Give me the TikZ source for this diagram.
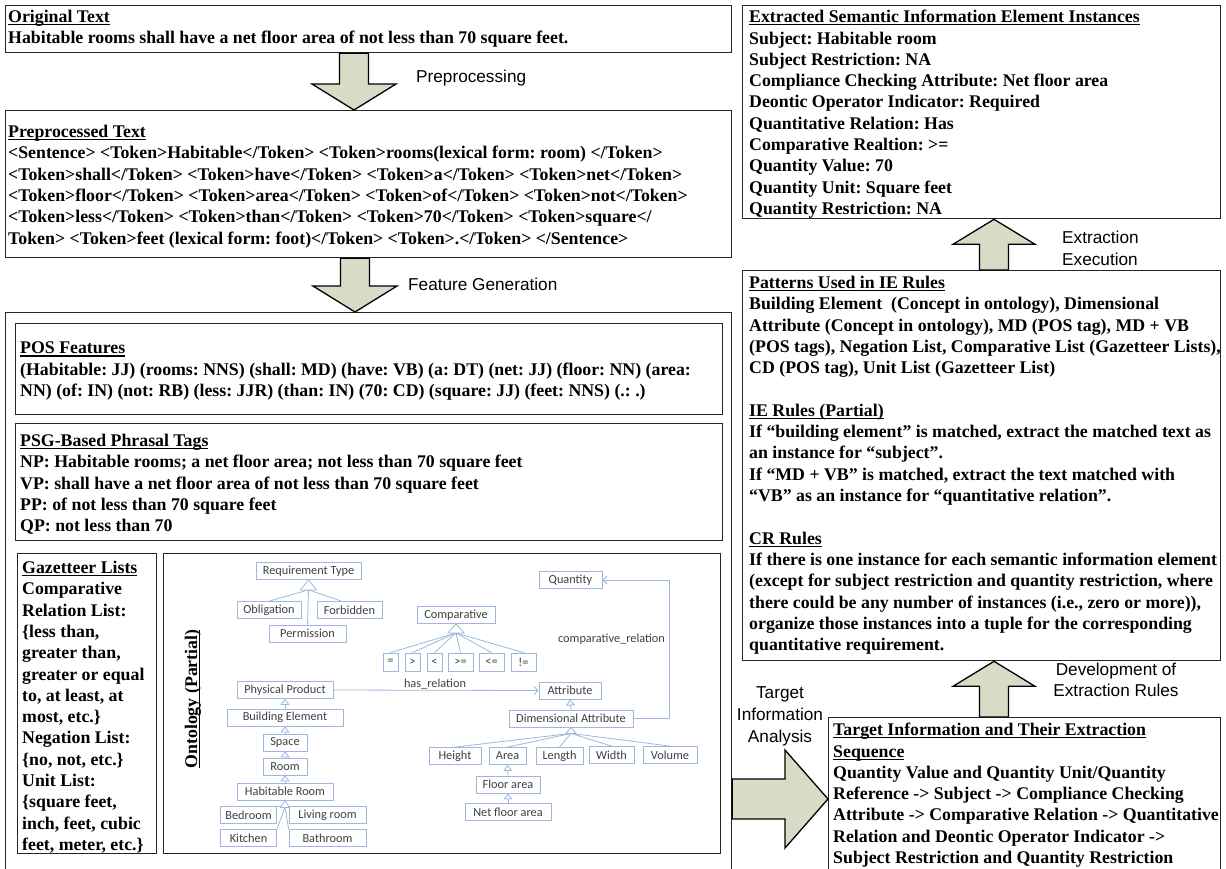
\documentclass[tikz,border=0pt]{standalone}
\usepackage{fontspec}
\setmainfont{Liberation Serif}
\newfontfamily\labelsans{Liberation Sans}
\newfontfamily\ontosans{Carlito}
\usetikzlibrary{arrows.meta,calc}
\definecolor{arrowfill}{HTML}{D8DBC6}
\definecolor{ontoline}{HTML}{9DB7DD}
\definecolor{ontotext}{HTML}{404040}
\frenchspacing

% underlined heading with a rule at a fixed depth
\newsavebox\hdrbox
\newcommand\hdr[1]{\sbox\hdrbox{#1}\rlap{\rule[-2.6pt]{\wd\hdrbox}{1.1pt}}\usebox\hdrbox}

% block arrow pointing down: x position, tail anchor, tip anchor
\newcommand\downblock[3]{%
  \draw[blockarrow] let \p1=(#2), \p2=(#3) in
    ({#1pt-14.5pt},\y1) -- ({#1pt+14.5pt},\y1) -- ({#1pt+14.5pt},\y2+26pt)
    -- ({#1pt+42pt},\y2+26pt) -- (#1pt,\y2) -- ({#1pt-42pt},\y2+26pt)
    -- ({#1pt-14.5pt},\y2+26pt) -- cycle;}
% block arrow pointing up: x position, tail anchor, tip anchor
\newcommand\upblock[3]{%
  \draw[blockarrow] let \p1=(#2), \p2=(#3) in
    ({#1pt-14.5pt},\y1) -- ({#1pt+14.5pt},\y1) -- ({#1pt+14.5pt},\y2-25pt)
    -- ({#1pt+41pt},\y2-25pt) -- (#1pt,\y2) -- ({#1pt-41pt},\y2-25pt)
    -- ({#1pt-14.5pt},\y2-25pt) -- cycle;}

\tikzset{
  panel/.style={draw=black!85, line width=1.3pt, anchor=north west, inner sep=0pt},
  body/.style={anchor=north west, inner sep=0pt, align=left,
    font=\fontsize{17.8}{21.3}\selectfont\bfseries, execute at begin node=\strut},
  flowlabel/.style={inner sep=0pt, align=center, font=\labelsans\fontsize{17.2}{21.5}\selectfont},
  blockarrow/.style={fill=arrowfill, draw=black, line width=1.3pt, line join=miter},
  onto/.style={draw=ontoline, line width=0.8pt, fill=white, text=ontotext, inner sep=0pt,
    minimum height=17pt, font=\ontosans\fontsize{12.3}{13}\selectfont},
  ol/.style={draw=ontoline, line width=0.8pt},
  gen/.style={ol, -{Triangle[open, fill=white, length=6pt, width=9pt]}},
  assoc/.style={ol, -{Straight Barb[length=4pt, width=8pt]}},
  ontolabel/.style={inner sep=0pt, text=ontotext, font=\ontosans\fontsize{12.3}{13}\selectfont},
}

\begin{document}
\begin{tikzpicture}[x=1pt,y=-1pt]
\useasboundingbox (0,0) rectangle (1226,868);

% ---------- left column panels ----------
\node[panel, minimum width=726pt, minimum height=47pt]  (orig) at (5,5) {};
\node[panel, minimum width=726pt, minimum height=147pt] (prep) at (5,110) {};
\node[panel, minimum width=726pt, minimum height=575pt] (feat) at (5,312) {};
\node[panel, minimum width=707pt, minimum height=91pt]  (pos)  at (15,323) {};
\node[panel, minimum width=707pt, minimum height=117pt] (psg)  at (15,423) {};
\node[panel, minimum width=139pt, minimum height=300pt] (gaz)  at (17,553) {};
\node[panel, minimum width=557pt, minimum height=300pt] (ontbox) at (163,553) {};

% ---------- right column panels ----------
\node[panel, minimum width=478pt, minimum height=213pt] (ext) at (742,5) {};
\node[panel, minimum width=478pt, minimum height=390pt] (pat) at (742,270) {};
\node[panel, minimum width=392pt, minimum height=170pt] (tgt) at (828,717) {};

% ---------- panel texts ----------
\node[body] (origtxt) at (8,10) {\hdr{Original Text}\\
Habitable rooms shall have a net floor area of not less than 70 square feet.};

\node[body] (preptxt) at (8,125) {\hdr{Preprocessed Text}\\
<Sentence> <Token>Habitable</Token> <Token>rooms(lexical form: room) </Token>\\
<Token>shall</Token> <Token>have</Token> <Token>a</Token> <Token>net</Token>\\
<Token>floor</Token> <Token>area</Token> <Token>of</Token> <Token>not</Token>\\
<Token>less</Token> <Token>than</Token> <Token>70</Token> <Token>square</\\
Token> <Token>feet (lexical form: foot)</Token> <Token>.</Token> </Sentence>};

\node[body] (postxt) at (20,342) {\hdr{POS Features}\\
(Habitable: JJ) (rooms: NNS) (shall: MD) (have: VB) (a: DT) (net: JJ) (floor: NN) (area:\\
NN) (of: IN) (not: RB) (less: JJR) (than: IN) (70: CD) (square: JJ) (feet: NNS) (.: .)};

\node[body] (psgtxt) at (20,434) {\hdr{PSG-Based Phrasal Tags}\\
NP: Habitable rooms; a net floor area; not less than 70 square feet\\
VP: shall have a net floor area of not less than 70 square feet\\
PP: of not less than 70 square feet\\
QP: not less than 70};

\node[body] (gaztxt) at (22,561) {\hdr{Gazetteer Lists}\\
Comparative\\ Relation List:\\ \{less than,\\ greater than,\\ greater or equal\\
to, at least, at\\ most, etc.\}\\ Negation List:\\ \{no, not, etc.\}\\ Unit List:\\
\{square feet,\\ inch, feet, cubic\\ feet, meter, etc.\}};

\node[body] (exttxt) at (749,10) {\hdr{Extracted Semantic Information Element Instances}\\
Subject: Habitable room\\
Subject Restriction: NA\\
Compliance Checking Attribute: Net floor area\\
Deontic Operator Indicator: Required\\
Quantitative Relation: Has\\
Comparative Realtion: >=\\
Quantity Value: 70\\
Quantity Unit: Square feet\\
Quantity Restriction: NA};

\node[body] (pattxt) at (749,276) {\hdr{Patterns Used in IE Rules}\\
Building Element~ (Concept in ontology), Dimensional\\
Attribute (Concept in ontology), MD (POS tag), MD + VB\\
(POS tags), Negation List, Comparative List (Gazetteer Lists),\\
CD (POS tag), Unit List (Gazetteer List)\\[21.3pt]
\hdr{IE Rules (Partial)}\\
If “building element” is matched, extract the matched text as\\
an instance for “subject”.\\
If “MD + VB” is matched, extract the text matched with\\
“VB” as an instance for “quantitative relation”.\\[21.3pt]
\hdr{CR Rules}\\
If there is one instance for each semantic information element\\
(except for subject restriction and quantity restriction, where\\
there could be any number of instances (i.e., zero or more)),\\
organize those instances into a tuple for the corresponding\\
quantitative requirement.};

\node[body] (tgttxt) at (833,723) {\hdr{Target Information and Their Extraction}\\
\hdr{Sequence}\\
Quantity Value and Quantity Unit/Quantity\\
Reference -> Subject -> Compliance Checking\\
Attribute -> Comparative Relation -> Quantitative\\
Relation and Deontic Operator Indicator ->\\
Subject Restriction and Quantity Restriction};

% ---------- block arrows between stages ----------
\downblock{354}{orig.south}{prep.north}
\downblock{355}{prep.south}{feat.north}
\upblock{994}{pat.north}{ext.south}
\upblock{994}{tgt.north}{pat.south}
\draw[blockarrow] let \p1=(feat.east), \p2=(tgt.west) in
  (\x1,-779pt) -- ({\x2-43pt},-779pt) -- ({\x2-43pt},-750pt) -- (\x2,-799pt)
  -- ({\x2-43pt},-848pt) -- ({\x2-43pt},-819pt) -- (\x1,-819pt) -- cycle;

\node[flowlabel, anchor=west] (lbpre)  at (416,78)  {Preprocessing};
\node[flowlabel, anchor=west] (lbfeat) at (408,284) {Feature Generation};
\node[flowlabel, anchor=west, align=left] (lbexec) at (1062,248.5) {Extraction\\Execution};
\node[flowlabel] (lbdev) at (1116,680) {Development of\\Extraction Rules};
\node[flowlabel, font=\labelsans\fontsize{17.2}{22}\selectfont] (lbtgt) at (780,716) {Target\\Information\\Analysis};

% ---------- ontology (partial) ----------
\node[rotate=90, inner sep=0pt, font=\fontsize{17.8}{20}\selectfont\bfseries] (ontotitle) at (193,699) {\hdr{Ontology (Partial)}};

\node[onto, minimum width=105pt] (reqtype) at (308.5,571) {Requirement Type};
\node[onto, minimum width=64pt]  (oblig)   at (269,610)   {Obligation};
\node[onto, minimum width=65pt]  (forbid)  at (349.5,610) {Forbidden};
\node[onto, minimum width=77pt]  (permit)  at (307.5,633.5) {Permission};

\node[onto, minimum width=78pt] (compar) at (456,615) {Comparative};
\node[onto, minimum width=15pt, minimum height=18pt] (ceq) at (390.5,662) {=};
\node[onto, minimum width=15pt, minimum height=18pt] (cgt) at (412.5,662) {>};
\node[onto, minimum width=15pt, minimum height=18pt] (clt) at (434.5,662) {<};
\node[onto, minimum width=25pt, minimum height=18pt] (cge) at (460.5,662) {>=};
\node[onto, minimum width=25pt, minimum height=18pt] (cle) at (491.5,662) {<=};
\node[onto, minimum width=25pt, minimum height=18pt] (cne) at (523.5,662) {!=};

\node[onto, minimum width=63pt] (quantity) at (570.5,580) {Quantity};

\node[onto, minimum width=96pt]  (phys)   at (285,690)   {Physical Product};
\node[onto, minimum width=116pt] (bldg)   at (285,717.5) {Building Element};
\node[onto, minimum width=44pt]  (space)  at (285,742.5) {Space};
\node[onto, minimum width=44pt]  (room)   at (285,766.5) {Room};
\node[onto, minimum width=96pt]  (habroom) at (285,791.5) {Habitable Room};
\node[onto, minimum width=56pt]  (bedroom) at (248.5,815) {Bedroom};
\node[onto, minimum width=77pt]  (living)  at (327.5,815) {Living room};
\node[onto, minimum width=56pt]  (kitchen) at (248.5,838) {Kitchen};
\node[onto, minimum width=77pt]  (bath)    at (327.5,838) {Bathroom};

\node[onto, minimum width=62pt]  (attr)    at (570,690.5) {Attribute};
\node[onto, minimum width=124pt] (dimattr) at (571,718.5) {Dimensional Attribute};
\node[onto, minimum width=52pt]  (height)  at (455,756)   {Height};
\node[onto, minimum width=37pt]  (area)    at (507.5,756) {Area};
\node[onto, minimum width=47pt]  (length)  at (559.5,756) {Length};
\node[onto, minimum width=45pt]  (width)   at (611.5,755) {Width};
\node[onto, minimum width=54pt]  (volume)  at (670,755)   {Volume};
\node[onto, minimum width=64pt]  (floorarea) at (508,784.5) {Floor area};
\node[onto, minimum width=86pt]  (netfloor)  at (508,812)   {Net floor area};

% generalisation with one child
\draw[gen] (bldg.north) -- (phys.south);
\draw[gen] (space.north) -- (bldg.south);
\draw[gen] (room.north) -- (space.south);
\draw[gen] (habroom.north) -- (room.south);
\draw[gen] (dimattr.north) -- (attr.south);
\draw[gen] (floorarea.north) -- (area.south);
\draw[gen] (netfloor.north) -- (floorarea.south);

% generalisation with several children
\coordinate (reqtri) at ($(reqtype.south)+(0,10)$);
\draw[ol] (reqtri) -- (oblig.north);
\draw[ol] (reqtri) -- ($(forbid.north)+(-8,0)$);
\draw[ol] (reqtri) -- (permit.north);
\draw[ol, fill=white] (reqtype.south) -- ++(-8,10) -- ++(16,0) -- cycle;

\coordinate (comtri) at ($(compar.south)+(0,9)$);
\foreach \c in {ceq,cgt,clt,cge,cle,cne} \draw[ol] (comtri) -- (\c.north);
\draw[ol, fill=white] (compar.south) -- ++(-8,9) -- ++(16,0) -- cycle;

\coordinate (dimtri) at ($(dimattr.south)+(0,6)$);
\foreach \c in {height,area,length,width,volume} \draw[ol] (dimtri) -- (\c.north);
\draw[ol, fill=white] (dimattr.south) -- ++(-5,6) -- ++(10,0) -- cycle;

\coordinate (habtri) at ($(habroom.south)+(0,7)$);
\draw[ol] (habtri) -- (bedroom.north east);
\draw[ol] (habtri) -- (living.north west);
\draw[ol] (habtri) -- (kitchen.north east);
\draw[ol] (habtri) -- (bath.north west);
\draw[ol, fill=white] (habroom.south) -- ++(-4.5,7) -- ++(9,0) -- cycle;

% associations
\draw[assoc] (phys.east) -- (attr.west);
\node[ontolabel, anchor=south] (hasrel) at (435,689) {has\_relation};
\draw[assoc] (dimattr.east) -- ++(36,0) |- (quantity.east);
\node[ontolabel] (comprel) at (611.5,639) {comparative\_relation};
\end{tikzpicture}
\end{document}
